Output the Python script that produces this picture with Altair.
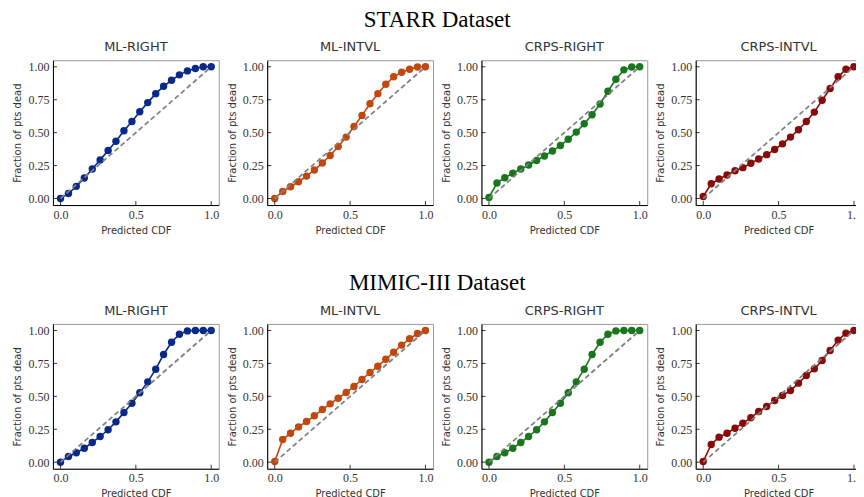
import altair as alt
import pandas as pd

# Predicted CDF levels (20 evenly spaced calibration bins)
cdf_levels = [0.000, 0.053, 0.105, 0.158, 0.211, 0.263, 0.316, 0.368, 0.421, 0.474,
              0.526, 0.579, 0.632, 0.684, 0.737, 0.789, 0.842, 0.895, 0.947, 1.000]

# STARR dataset
starr_ml_right = [0.000, 0.038, 0.092, 0.155, 0.224, 0.293, 0.364, 0.435, 0.514, 0.585,
                  0.659, 0.728, 0.796, 0.852, 0.898, 0.939, 0.969, 0.987, 1.000, 1.000]
starr_ml_intvl = [0.000, 0.053, 0.089, 0.127, 0.170, 0.216, 0.270, 0.326, 0.394, 0.466,
                  0.547, 0.631, 0.720, 0.796, 0.868, 0.924, 0.959, 0.982, 0.998, 1.000]
starr_crps_right = [0.008, 0.117, 0.158, 0.191, 0.224, 0.254, 0.288, 0.323, 0.361, 0.402,
                    0.450, 0.504, 0.567, 0.636, 0.718, 0.814, 0.906, 0.977, 0.998, 1.000]
starr_crps_intvl = [0.015, 0.112, 0.148, 0.178, 0.211, 0.234, 0.267, 0.300, 0.333, 0.372,
                    0.415, 0.466, 0.522, 0.585, 0.656, 0.746, 0.835, 0.924, 0.982, 1.000]

# MIMIC-III dataset
mimic_ml_right = [0.000, 0.043, 0.071, 0.106, 0.149, 0.195, 0.246, 0.306, 0.377, 0.448,
                  0.527, 0.610, 0.706, 0.818, 0.911, 0.972, 0.997, 1.000, 1.000, 1.000]
mimic_ml_intvl = [0.005, 0.172, 0.220, 0.268, 0.309, 0.352, 0.400, 0.443, 0.486, 0.529,
                  0.575, 0.628, 0.681, 0.729, 0.782, 0.835, 0.889, 0.937, 0.977, 1.000]
mimic_crps_right = [0.000, 0.043, 0.071, 0.106, 0.149, 0.195, 0.246, 0.306, 0.377, 0.448,
                    0.527, 0.610, 0.706, 0.818, 0.911, 0.972, 0.997, 1.000, 1.000, 1.000]
mimic_crps_intvl = [0.005, 0.134, 0.190, 0.220, 0.258, 0.296, 0.337, 0.385, 0.423, 0.468,
                    0.506, 0.544, 0.600, 0.658, 0.709, 0.772, 0.848, 0.927, 0.980, 1.000]

panel_titles = ["ML-RIGHT", "ML-INTVL", "CRPS-RIGHT", "CRPS-INTVL"]
panel_colors = ["#0a2888", "#c2470d", "#18761c", "#8a0a0a"]
dataset_titles = ["STARR Dataset", "MIMIC-III Dataset"]

y_ticks = [0.0, 0.25, 0.5, 0.75, 1.0]
x_ticks = [0.0, 0.5, 1.0]
diag_pts = [0.0, 1.0]

W, H = 166, 145


def panel(values, title, color):
    df = pd.DataFrame({"cdf": cdf_levels, "frac": values})
    diag = pd.DataFrame({"cdf": diag_pts, "frac": diag_pts})
    xs = alt.Scale(domain=[-0.05, 1.05], nice=False, zero=False)
    ys = alt.Scale(domain=[-0.05, 1.05], nice=False, zero=False)
    xax = alt.Axis(values=x_ticks, format=".1f", title="Predicted CDF", ticks=False,
                   labelFlush=False, grid=False)
    yax = alt.Axis(values=y_ticks, format=".2f", title="Fraction of pts dead", ticks=False,
                   labelFlush=False, grid=False)
    X = alt.X("cdf:Q", scale=xs, axis=xax)
    Y = alt.Y("frac:Q", scale=ys, axis=yax)
    line = alt.Chart(df).mark_line(color=color, strokeWidth=1.6).encode(x=X, y=Y)
    pts = alt.Chart(df).mark_circle(color=color, size=55, opacity=1).encode(x=X, y=Y)
    dline = alt.Chart(diag).mark_line(color="#808080", strokeDash=[5, 3],
                                      strokeWidth=1.8).encode(x=X, y=Y)
    yt = alt.Chart(pd.DataFrame({"frac": y_ticks})).mark_rule(
        color="black", strokeWidth=0.8).encode(y=Y, x=alt.value(0), x2=alt.value(4))
    xt = alt.Chart(pd.DataFrame({"cdf": x_ticks})).mark_rule(
        color="black", strokeWidth=0.8).encode(x=X, y=alt.value(H), y2=alt.value(H - 4))
    return alt.layer(line, pts, dline, yt, xt).properties(
        width=W, height=H,
        title=alt.TitleParams(title, font="DejaVu Sans", fontSize=13, fontWeight="normal",
                              color="#333333", offset=6))


def row(series, dtitle):
    panels = [panel(v, t, c) for v, t, c in zip(series, panel_titles, panel_colors)]
    return alt.hconcat(*panels, spacing=6.5).properties(
        title=alt.TitleParams(dtitle, font="Liberation Serif", fontSize=23, fontWeight="normal",
                              color="black", anchor="middle", offset=9))


row1 = row([starr_ml_right, starr_ml_intvl, starr_crps_right, starr_crps_intvl], dataset_titles[0])
row2 = row([mimic_ml_right, mimic_ml_intvl, mimic_crps_right, mimic_crps_intvl], dataset_titles[1])

chart = alt.vconcat(row1, row2, spacing=36).configure_view(
    stroke="#999999", strokeWidth=1
).configure_axis(
    domainColor="black", domainWidth=1,
    labelFont="Liberation Serif", labelFontSize=12, labelColor="#333333", labelPadding=4,
    titleFont="DejaVu Sans", titleFontSize=10, titleFontWeight="normal", titleColor="#333333",
    titlePadding=5
).properties(padding={"left": 4, "top": 0, "right": -6, "bottom": 0}, background="white")

chart.save("out.html", embed_options={"renderer": "svg", "actions": False})
